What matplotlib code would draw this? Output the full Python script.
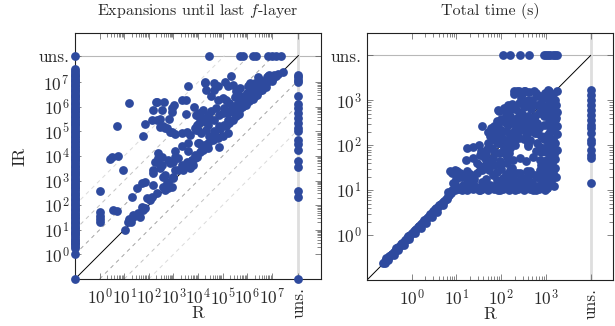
import numpy as np
import matplotlib.pyplot as plt

plt.rcParams['font.family'] = 'cmr10'
plt.rcParams['mathtext.fontset'] = 'cm'
plt.rcParams['axes.unicode_minus'] = False

DOT = '#2e4a9e'

# ---------------- left panel: expansions until last f-layer ----------------
# values are log10; R = 0 sits on the left edge,
# unsolved ("uns.") sits on the grey lines
L_LO, L_UNS, L_HI = -1.0, 8.08, 9.0

# IR values for instances with R = 0
left_r0_ir = [0.0, 0.28, 0.35, 0.41, 0.48, 0.55, 0.6, 0.68, 0.74, 0.81, 0.88, 0.93,
              1.0, 1.07, 1.13, 1.2, 1.26, 1.33, 1.4, 1.46, 1.52, 1.6, 1.66, 1.72,
              1.8, 1.86, 1.93, 2.0, 2.06, 2.14, 2.2, 2.27, 2.33, 2.41, 2.47, 2.54,
              2.6, 2.68, 2.75, 2.81, 2.88, 2.94, 3.01, 3.08, 3.15, 3.21, 3.28, 3.35,
              3.41, 3.48, 3.55, 3.61, 3.68, 3.75, 3.82, 3.88, 3.95, 4.02, 4.08, 4.15,
              4.22, 4.29, 4.35, 4.42, 4.5, 4.56, 4.62, 4.7, 4.77, 4.83, 4.9, 4.97,
              5.03, 5.1, 5.18, 5.24, 5.3, 5.37, 5.44, 5.5, 5.58, 5.64, 5.7, 5.77,
              5.84, 5.9, 5.97, 6.04, 6.1, 6.17, 6.24, 6.3, 6.38, 6.44, 6.5, 6.57,
              6.64, 6.7, 6.77, 6.84, 6.9, 6.97, 7.04, 7.1, 7.17, 7.24, 7.3, 7.38,
              7.45, 7.52]
# IR values where R is unsolved
left_runs_ir = [7.3, 7.2, 7.1, 7.0, 6.45, 6.1, 5.95, 5.75, 5.55, 5.35, 5.15, 5.0,
                4.65, 4.5, 4.25, 3.8, 3.55, 2.58, 2.33]
# R values where IR is unsolved
left_irun_r = [4.46, 5.72, 5.82, 6.22, 6.36, 6.83, 7.01, 7.17, 7.37]

left_r = [0.02, 0.02, 0.02, 0.02, 0.02, 0.56, 0.69, 0.42, 0.74, 0.49, 0.96, 0.72,
          1.21, 1.03, 1.15, 1.22, 1.28, 1.2, 1.37, 1.57, 1.64, 1.78, 1.3, 1.51,
          1.85, 1.91, 2.05, 1.71, 1.85, 2.18, 2.18, 2.25, 2.32, 2.18, 2.59, 2.66,
          2.73, 2.66, 2.8, 2.93, 3.0, 3.07, 2.46, 2.52, 2.39, 2.52, 2.79, 2.86,
          3.0, 3.07, 3.2, 3.34, 3.4, 3.54, 3.67, 3.74, 3.81, 3.88,
          1.37, 1.71, 2.12, 2.32, 2.59, 2.79, 3.0, 3.2, 3.38, 3.54, 3.74, 3.95,
          4.08, 4.28, 4.42,
          2.29, 2.63, 3.02, 2.16, 2.55, 2.96, 2.14, 2.32, 2.46, 1.85, 2.82, 1.78,
          2.59, 2.73, 2.93, 3.07, 3.34, 3.54, 3.67, 3.51, 3.51, 3.61, 3.85, 3.95,
          3.88, 4.01, 3.34, 3.61, 3.07, 2.39, 3.61, 3.88, 4.01,
          4.3, 4.33, 4.53, 4.66, 4.8, 5.34, 4.8, 5.0, 5.14, 5.27, 5.21, 5.41,
          5.54, 5.68, 6.02, 4.53, 4.73, 4.87, 5.0, 3.92, 4.05, 4.19, 4.05, 4.26,
          4.39, 4.46, 4.66, 3.92, 4.12, 4.33, 4.46, 4.66, 4.87, 4.05, 4.26, 4.19,
          4.39, 4.87, 4.6, 4.8, 5.0, 5.21, 5.14, 5.27, 5.41, 5.54, 5.34, 5.48,
          5.61, 5.75, 5.88, 5.95, 5.07, 5.21, 5.68, 5.82, 5.95, 6.09, 6.22, 6.36,
          6.49, 6.63, 6.76, 6.9, 7.04, 7.17, 7.44,
          6.2, 6.4, 6.6, 6.8, 6.3, 6.0, 5.8, 6.5, 6.1, 6.7, 5.9, 6.15, 5.65, 6.9,
          7.0, 2.46, 2.66, 2.86, 3.95, 4.08, 4.22, 4.42, 2.32, 2.93, 3.34, 4.28,
          4.65, 5.1,
          5.6, 5.75, 5.9, 6.05, 6.2, 6.35, 6.5, 6.65, 6.8, 6.95, 7.1, 5.5, 5.65,
          5.8, 6.0, 6.25, 6.4, 6.6, 6.75, 7.05, 7.25, 6.3, 6.55, 6.85, 6.1, 6.45,
          5.5, 5.7, 4.9, 5.05, 5.2, 4.7, 4.55, 4.15]
left_ir = [2.58, 1.71, 1.57, 1.44, 1.3, 1.8, 1.78, 3.88, 4.0, 3.96, 3.43, 5.21,
           6.15, 0.99, 1.3, 1.38, 1.33, 1.45, 1.6, 1.67, 1.53, 1.8, 2.35, 2.69,
           1.87, 2.28, 2.21, 2.89, 2.93, 2.82, 3.3, 3.77, 3.77, 3.43, 3.16, 3.23,
           2.89, 2.62, 2.69, 2.75, 3.09, 3.43, 3.5, 3.63, 3.9, 3.97, 3.84, 3.7,
           3.77, 3.97, 3.9, 3.63, 3.43, 3.77, 3.5, 3.84, 3.63, 3.9,
           1.53, 1.94, 2.35, 2.48, 2.75, 2.96, 3.16, 3.43, 3.57, 3.63, 3.84, 3.97,
           4.18, 4.38, 4.51,
           6.2, 6.2, 6.06, 5.86, 5.86, 5.78, 5.48, 5.48, 5.5, 5.31, 5.5, 4.8,
           5.21, 5.14, 4.96, 4.89, 4.93, 4.96, 4.87, 5.71, 6.29, 6.86, 5.99, 5.68,
           5.14, 5.07, 4.39, 4.53, 4.19, 4.12, 4.19, 4.05, 4.53,
           6.97, 6.7, 6.43, 6.97, 6.86, 7.24, 6.29, 6.36, 6.29, 6.15, 6.83, 6.9,
           6.63, 6.49, 6.83, 5.82, 5.95, 5.68, 5.75, 5.68, 5.75, 5.88, 5.34, 5.41,
           5.27, 5.54, 5.48, 5.07, 4.93, 5.07, 4.8, 5.0, 5.21, 4.53, 4.46, 4.26,
           4.33, 4.36, 4.66, 4.73, 4.8, 4.93, 5.21, 5.34, 5.48, 5.61, 5.88, 6.02,
           6.15, 6.22, 6.36, 6.49, 5.95, 5.75, 5.88, 6.02, 6.09, 6.22, 6.36, 6.49,
           6.63, 6.83, 6.97, 7.1, 7.17, 7.24, 7.4,
           6.6, 6.8, 7.0, 7.2, 6.95, 6.55, 6.4, 7.1, 6.7, 6.9, 6.15, 6.45, 6.25, 7.3,
           7.05, 5.19, 5.12, 4.99, 5.26, 5.4, 5.53, 5.67, 6.21, 5.94, 6.28, 7.02,
           6.68, 7.02,
           6.0, 6.1, 6.3, 6.4, 6.45, 6.6, 6.75, 6.9, 7.0, 7.15, 7.3, 5.75, 5.7,
           6.0, 6.2, 6.3, 6.5, 6.7, 6.8, 7.2, 7.35, 6.75, 6.95, 7.25, 6.95, 7.2,
           6.4, 6.75, 5.1, 5.25, 5.45, 4.85, 4.7, 4.35]

# ---------------- right panel: total time (s) ----------------
R_LO, R_UNS, R_HI = -1.0, 4.0, 4.5

right_runs_t = [3.22, 3.13, 3.01, 2.9, 2.79, 2.68, 2.57, 2.46, 2.38, 2.27, 2.12,
                2.05, 1.9, 1.79, 1.71, 1.16]
right_irun_t = [2.03, 2.2, 2.41, 2.63, 2.95, 3.0, 3.05, 3.1, 3.15, 3.2, 3.25]

right_r = [-0.64, -0.6, -0.57, -0.54, -0.5, -0.47, -0.44, -0.4, -0.37, -0.33, -0.3,
           -0.27, -0.23, -0.2, -0.16, -0.13, -0.1, -0.06, -0.03, 0.0, 0.04, 0.07,
           0.1, 0.14, 0.17, 0.2, 0.24, 0.27, 0.3, 0.34, 0.37, 0.41, 0.44, 0.48,
           0.51, 0.55, 0.58, 0.62, 0.65, 0.69, 0.72, 0.76, 0.8, 0.84, 0.88,
           -0.58, -0.45, -0.35, -0.22, -0.08, 0.05, 0.16, 0.28, 0.4, 0.53, 0.66, 0.78,
           -0.6, -0.52, -0.4, -0.3, -0.18, -0.05, 0.08, 0.2, 0.32, 0.45, 0.57, 0.7,
           0.82, 0.9, 0.97, 1.04, 1.1, 1.17, 1.24, 1.3, 1.37, 1.44, 1.5, 1.57,
           1.64, 1.7, 1.77, 1.84, 1.9, 1.97, 2.04, 2.1, 2.17, 2.24, 2.3, 2.37,
           2.44, 2.5, 2.57, 2.64, 2.7, 2.77, 2.84, 2.9, 2.97, 3.03,
           1.0, 1.2, 1.4, 1.6, 1.8, 2.0, 2.2, 2.4, 2.6, 2.8, 1.12, 1.52, 1.92,
           2.32, 2.72,
           3.02, 3.08, 3.12, 2.98, 3.05, 3.15, 3.1, 3.0, 3.07, 3.13, 3.03, 3.1,
           3.18, 3.0, 3.06, 3.12, 3.04, 3.09, 3.15, 3.01, 3.07, 3.11, 3.16, 3.03,
           3.08, 3.2, 3.05, 3.1, 3.14, 3.02, 3.09, 3.22, 3.06, 3.12, 3.0, 3.08,
           3.25, 3.25,
           3.18, 3.22, 3.2, 3.2, 3.24, 3.2, 3.24, 3.18, 3.22, 3.24, 3.18, 3.2,
           3.15, 2.95, 2.95, 2.95, 2.95, 2.96, 2.95, 2.95, 2.97, 2.95, 3.05,
           0.85, 0.96, 1.07, 1.18, 1.3, 1.45, 1.56, 1.82, 2.04, 2.15, 2.27, 2.41,
           2.53, 2.64, 2.75, 2.86, 2.97, 1.22, 1.37, 1.52, 1.67, 1.82, 1.97, 2.12,
           2.27, 2.41, 2.56, 2.71, 2.86, 1.15, 1.37, 1.97, 2.34, 0.93, 1.56, 2.65,
           2.8, 1.24, 1.38, 1.5, 1.61, 1.57, 1.79, 1.87, 1.94, 2.06, 2.13, 2.2,
           1.83, 1.94, 2.06, 2.17, 1.94, 2.06, 2.2, 2.32, 2.28, 2.39, 2.54, 2.73,
           2.61, 2.65, 2.39, 2.5, 2.58, 2.65, 2.76, 2.35, 2.24, 2.28,
           2.06, 2.13, 2.24, 2.35, 2.58, 2.8, 2.65, 2.61, 2.87, 2.84,
           2.91, 2.95, 2.87, 2.99, 2.13, 1.91, 1.61, 1.76, 1.91, 2.29, 2.47, 2.77,
           2.62, 2.66, 2.25, 2.32, 2.18, 1.95, 2.47, 2.55, 2.62, 2.44, 2.36, 2.74,
           2.81, 2.74, 1.77, 1.88, 1.99, 2.1, 2.21, 2.29, 2.4, 1.8, 1.92, 2.03,
           2.14, 2.51, 2.59, 2.81, 2.81, 2.77, 1.69, 1.84, 1.95, 2.06, 2.18,
           1.12, 1.24, 1.31, 0.9, 1.01, 1.05, 1.46, 1.53,
           1.65, 1.72, 1.9, 2.0, 2.1, 2.2, 2.3, 2.45, 2.6, 2.7, 2.9, 2.92, 1.4,
           1.25, 1.0, 1.75, 2.48, 2.85,
           1.65, 1.75, 1.85, 2.0, 2.9, 2.9, 2.2, 2.3, 1.55, 1.7, 1.65,
           1.7, 1.85, 2.0, 2.15, 2.25, 2.3, 2.45, 2.6, 2.7, 2.85, 2.9, 2.55,
           2.65, 2.0, 2.1, 1.9, 2.35, 2.6, 2.75,
           2.1, 2.2, 2.4, 2.5, 2.55, 2.45, 2.7, 2.8, 2.9, 2.8, 2.35, 2.62, 2.5,
           2.15, 2.4]
right_ir = [-0.63, -0.58, -0.55, -0.52, -0.47, -0.45, -0.41, -0.37, -0.35, -0.3, -0.27,
            -0.25, -0.2, -0.17, -0.12, -0.1, -0.07, -0.02, 0.0, 0.04, 0.07, 0.11,
            0.13, 0.18, 0.2, 0.25, 0.27, 0.31, 0.34, 0.39, 0.41, 0.46, 0.48, 0.53,
            0.56, 0.6, 0.63, 0.67, 0.7, 0.74, 0.77, 0.81, 0.86, 0.9, 0.93,
            -0.52, -0.42, -0.29, -0.18, -0.02, 0.1, 0.2, 0.33, 0.45, 0.57, 0.7, 0.8,
            -0.63, -0.55, -0.44, -0.33, -0.22, -0.09, 0.04, 0.15, 0.27, 0.4, 0.52, 0.66,
            0.97, 1.0, 1.01, 1.03, 1.02, 1.05, 1.0, 1.04, 1.02, 1.06, 1.01, 1.03,
            1.05, 1.0, 1.04, 1.02, 1.05, 1.01, 1.03, 1.04, 1.0, 1.06, 1.02, 1.03,
            1.05, 1.01, 1.04, 1.02, 1.06, 1.0, 1.03, 1.05, 1.01, 1.04,
            1.09, 1.1, 1.08, 1.11, 1.09, 1.1, 1.08, 1.11, 1.09, 1.1, 1.0, 1.0,
            1.0, 1.0, 1.0,
            1.05, 1.12, 1.2, 1.25, 1.3, 1.38, 1.42, 1.5, 1.55, 1.6, 1.68, 1.74,
            1.8, 1.86, 1.92, 1.98, 2.04, 2.1, 2.15, 2.2, 2.27, 2.33, 2.4, 2.46,
            2.52, 2.56, 2.62, 2.68, 2.74, 2.8, 2.87, 2.9, 2.95, 3.05, 3.12, 3.2,
            3.2, 2.42,
            1.1, 1.3, 1.5, 1.7, 1.9, 2.05, 2.25, 2.35, 2.6, 2.75, 2.85, 3.0,
            3.15, 1.15, 1.4, 1.65, 1.95, 2.15, 2.45, 2.65, 2.85, 3.05, 3.22,
            1.42, 1.46, 1.38, 1.34, 1.31, 1.38, 1.46, 1.34, 1.27, 1.23, 1.31, 1.38,
            1.27, 1.42, 1.34, 1.46, 1.27, 1.68, 1.72, 1.79, 1.68, 1.72, 1.64, 1.75,
            1.68, 1.72, 1.64, 1.75, 1.68, 1.12, 1.16, 1.16, 1.19, 1.17, 1.19, 1.19,
            1.3, 1.94, 1.97, 2.01, 1.75, 2.42, 1.94, 2.12, 2.05, 1.97, 2.12, 2.23,
            2.42, 2.46, 2.53, 2.61, 2.79, 2.83, 2.87, 2.83, 3.2, 3.2, 3.2, 3.2,
            3.01, 2.87, 2.57, 2.49, 2.38, 2.31, 2.27, 2.27, 2.09, 2.08,
            1.83, 1.6, 1.49, 1.38, 1.42, 1.3, 1.19, 2.02, 1.97, 2.72,
            2.79, 2.68, 3.09, 3.16, 1.16, 1.23, 1.16, 2.2, 2.27, 3.14, 3.14, 3.16,
            2.95, 2.8, 2.91, 2.8, 2.77, 2.77, 2.69, 2.62, 2.54, 2.5, 2.43, 2.58,
            2.5, 2.43, 2.39, 2.43, 2.35, 2.32, 2.28, 2.21, 2.17, 2.13, 2.06, 2.13,
            2.06, 2.13, 1.98, 2.28, 2.06, 1.87, 1.91, 1.87, 1.83, 1.91, 1.83,
            1.3, 1.42, 1.35, 1.38, 1.42, 1.3, 1.6, 1.53,
            1.25, 1.45, 1.4, 1.48, 1.35, 1.45, 1.2, 1.25, 1.3, 1.15, 1.38, 1.2,
            1.25, 1.2, 1.25, 1.12, 1.12, 1.1,
            1.55, 1.6, 1.55, 1.58, 1.55, 1.85, 1.95, 2.0, 1.88, 2.05, 1.8,
            2.3, 2.25, 2.2, 2.45, 2.5, 2.35, 2.35, 2.3, 2.4, 2.38, 2.2, 2.2,
            2.12, 2.58, 2.5, 2.55, 2.6, 2.65, 2.65,
            2.7, 2.65, 2.75, 2.85, 2.95, 3.05, 3.0, 2.9, 2.95, 3.1, 3.2, 3.18,
            3.2, 2.9, 2.95]


def draw(ax, xs, ys, r0, runs, irun, corners, lo, uns, hi, n_dec, title, dashed):
    p = lambda v: 10.0 ** np.asarray(v, dtype=float)
    LO, UNS, HI = 10.0 ** lo, 10.0 ** uns, 10.0 ** hi
    ax.set_xscale('log')
    ax.set_yscale('log')
    ax.set_xlim(LO, HI)
    ax.set_ylim(LO, HI)

    ax.axhline(UNS, color='#b8b8b8', lw=0.8, zorder=1)
    ax.axvline(UNS, color='#dedede', lw=2.0, zorder=1)
    if dashed:
        for k, c in [(1, '#a3a3a3'), (2, '#c2c2c2'), (3, '#dadada')]:
            f = 10.0 ** k
            ax.plot([LO, UNS / f], [LO * f, UNS], ls=(0, (4, 4)), color=c, lw=0.7, zorder=1)
            ax.plot([LO * f, UNS], [LO, UNS / f], ls=(0, (4, 4)), color=c, lw=0.7, zorder=1)
    ax.plot([LO, UNS], [LO, UNS], color='black', lw=0.7, zorder=2)

    kw = dict(s=40, color=DOT, linewidths=0, zorder=3, clip_on=False)
    ax.scatter(p(xs), p(ys), **kw)
    if len(r0):
        ax.scatter(np.full(len(r0), LO), p(r0), **kw)
    ax.scatter(np.full(len(runs), UNS), p(runs), **kw)
    ax.scatter(p(irun), np.full(len(irun), UNS), **kw)
    if corners:
        ax.scatter([LO, LO, UNS], [LO, UNS, LO], **kw)

    major = [10.0 ** d for d in range(n_dec + 1)] + [UNS]
    labels = ['$10^{%d}$' % d for d in range(n_dec + 1)] + ['uns.']
    minor = [k * 10.0 ** d for d in range(n_dec) for k in range(2, 10)]
    for axis in (ax.xaxis, ax.yaxis):
        axis.set_ticks(major)
        axis.set_ticklabels(labels)
        axis.set_ticks(minor, minor=True)
        axis.set_minor_formatter(plt.NullFormatter())
    xl = ax.get_xticklabels()[-1]
    xl.set_rotation(90)
    xl.set_va('top')
    ax.tick_params(which='both', direction='in', top=True, right=True,
                   color='#555555', width=0.5, labelsize=12.5, labelcolor='#2a2a2a')
    ax.tick_params(which='major', length=4.5)
    ax.tick_params(which='minor', length=2.8)
    ax.tick_params(axis='x', pad=6)
    ax.tick_params(axis='y', pad=4)
    for s in ax.spines.values():
        s.set_linewidth(0.8)
        s.set_color('#222222')
    ax.set_title(title, fontsize=11.5, pad=13, color='#2a2a2a')
    ax.set_xlabel('R', fontsize=12.5, color='#2a2a2a')
    ax.xaxis.set_label_coords(0.5, -0.11)


fig = plt.figure(figsize=(6.15, 3.26), dpi=100)
ax1 = fig.add_axes([75 / 615, 47 / 326, 246 / 615, 246 / 326])
ax2 = fig.add_axes([367 / 615, 46 / 326, 246 / 615, 247 / 326])

draw(ax1, left_r, left_ir, left_r0_ir, left_runs_ir, left_irun_r, True,
     L_LO, L_UNS, L_HI, 7, 'Expansions until last $f$-layer', True)
draw(ax2, right_r, right_ir, [], right_runs_t, right_irun_t, False,
     R_LO, R_UNS, R_HI, 3, 'Total time (s)', False)
ax1.set_ylabel('IR', fontsize=12.5, color='#2a2a2a')
ax1.yaxis.set_label_coords(-0.195, 0.5)

fig.savefig('out.png', dpi=100)
